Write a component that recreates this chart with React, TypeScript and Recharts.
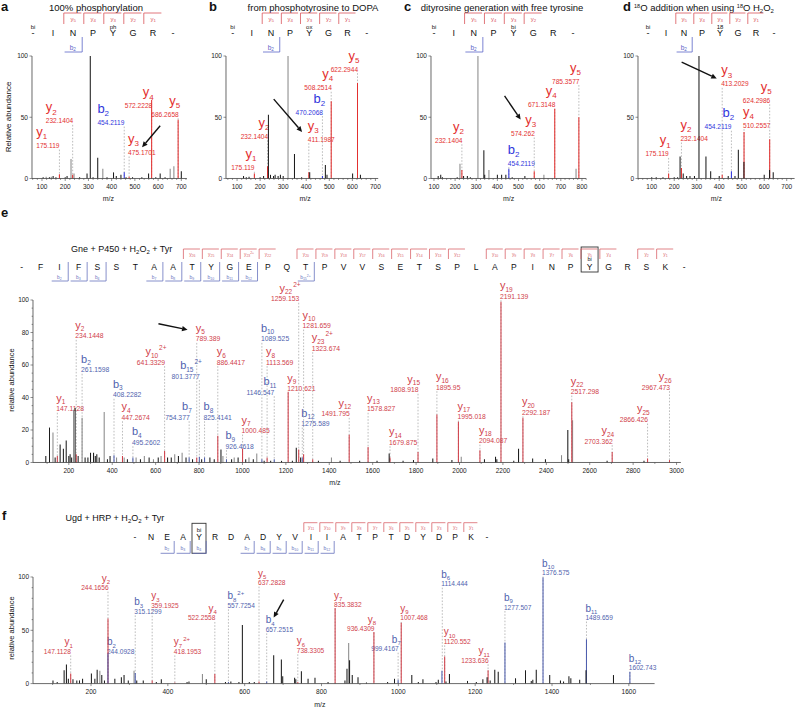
import React from "react";
import { ComposedChart, ErrorBar, ReferenceLine, Scatter, XAxis, YAxis } from "recharts";

type Peak = [number, number, string];
// ion, subscript, charge, mass text, m/z, label level, alignment
type Ann = [string, string, string, string, number, number, string];

const FONT = "'Liberation Sans', Arial, Helvetica, sans-serif";

// ---------- a: 100% phosphorylation ----------
const seqA = ["-", "I", "N", "P", "Y", "G", "R", "-"];
const yIonsA: [number, string, string][] = [[2, "5", ""], [3, "4", ""], [4, "3", ""], [5, "2", ""], [6, "1", ""]];
const bIonsA: [number, string, string][] = [[2, "2", ""]];
const modsA: [number, string][] = [[0, "bi"], [4, "ph"]];
const peaksA: Peak[] = [
  [105, 1, "k"], [118, 1.5, "g"], [132, 1, "k"], [140, 1.5, "g"], [148, 2, "k"], [160, 1, "k"],
  [175.1, 3.5, "r"], [200, 1, "k"], [208, 2, "k"], [225, 16, "g"], [232.1, 3, "r"], [238, 4, "g"],
  [262, 1, "k"], [294, 4, "k"], [308, 100, "k"], [320, 1, "k"], [340, 17, "k"], [362, 8, "g"],
  [380, 1, "k"], [408, 5, "k"], [420, 2, "k"], [440, 3, "k"], [454.2, 5, "b"], [462, 1, "k"],
  [475.2, 1.5, "r"], [490, 1, "k"], [530, 1, "k"], [559, 4, "k"], [572.2, 64, "r"], [590, 1, "k"],
  [609, 4, "k"], [630, 1, "k"], [652, 8, "g"], [668, 10, "g"], [686.3, 48, "r"], [700, 6, "k"],
];
const annsA: Ann[] = [
  ["y", "1", "", "175.119", 175.1, 23.6, "el"],
  ["y", "2", "", "232.1404", 232.1, 43.8, "el"],
  ["b", "2", "", "454.2119", 454.2, 42.4, "el"],
  ["y", "3", "", "475.1701", 475.2, 18, "s"],
  ["y", "4", "", "572.2228", 572.2, 56, "e"],
  ["y", "5", "", "686.2658", 686.3, 49.2, "e"],
];
const arrowA: [number, number][] = [[609, 43], [531, 25.6]];

// ---------- b: from phosphotyrosine to DOPA ----------
const seqB = ["-", "I", "N", "P", "Y", "G", "R", "-"];
const modsB: [number, string][] = [[0, "bi"], [4, "ox"]];
const peaksB: Peak[] = [
  [128, 2, "k"], [140, 1, "k"], [152, 1.5, "k"], [175.1, 4, "r"], [200, 1, "k"], [215, 2, "k"],
  [232.1, 10, "r"], [236, 52, "k"], [245, 3, "k"], [258, 2, "k"], [265, 3, "k"], [278, 2, "k"],
  [288, 3, "k"], [300, 2, "k"], [321, 100, "g"], [349, 20, "k"], [380, 1, "k"], [411.2, 5, "r"],
  [415, 5, "k"], [470.2, 2, "b"], [483, 11, "k"], [490, 3, "k"], [508.3, 63, "r"], [601, 4, "k"],
  [622.3, 78, "r"], [635, 3, "k"],
];
const annsB: Ann[] = [
  ["y", "1", "", "175.119", 175.1, 5.5, "e"],
  ["y", "2", "", "232.1404", 232.1, 31.2, "e"],
  ["y", "3", "", "411.1987", 411.2, 28.9, "s"],
  ["b", "2", "", "470.2068", 470.2, 51, "e"],
  ["y", "4", "", "508.2514", 508.3, 70.8, "e"],
  ["y", "5", "", "622.2944", 622.3, 86, "e"],
];
const arrowB: [number, number][] = [[259, 64.8], [382, 38]];

// ---------- c: dityrosine generation with free tyrosine ----------
const seqC = ["-", "I", "N", "P", "Y", "G", "R", "-"];
const yIonsC: [number, string, string][] = [[2, "5", ""], [3, "4", ""], [4, "3", ""], [5, "2", ""]];
const modsC: [number, string][] = [[0, "bi"], [4, "bi"]];
const peaksC: Peak[] = [
  [120, 2, "k"], [132, 3, "k"], [140, 1, "k"], [210, 1, "k"], [223, 12, "g"], [232.1, 7, "r"],
  [240, 2, "k"], [258, 2, "k"], [272, 1, "k"], [308, 100, "g"], [336, 23, "k"], [340, 3, "k"],
  [360, 7, "g"], [400, 3, "k"], [420, 3, "k"], [440, 3, "k"], [454.2, 8, "b"], [470, 1, "k"],
  [530, 2, "k"], [574.3, 6, "r"], [620, 3, "g"], [671.3, 57, "r"], [772, 8, "g"], [785.4, 50, "r"],
];
const annsC: Ann[] = [
  ["y", "2", "", "232.1404", 232.1, 28, "e"],
  ["b", "2", "", "454.2119", 454.2, 9.3, "s"],
  ["y", "3", "", "574.262", 574.3, 33.5, "e"],
  ["y", "4", "", "671.3148", 671.3, 57, "e"],
  ["y", "5", "", "785.3577", 785.4, 76.3, "e"],
];
const arrowC: [number, number][] = [[434, 67.4], [510, 48.2]];

// ---------- d: 18O addition ----------
const seqD = ["-", "I", "N", "P", "Y", "G", "R", "-"];
const modsD: [number, string][] = [[0, "bi"], [4, "18"]];
const peaksD: Peak[] = [
  [100, 1, "k"], [120, 1, "k"], [150, 1, "k"], [175.1, 4, "r"], [200, 1, "k"], [215, 1, "k"],
  [226, 18, "k"], [232.1, 8.5, "r"], [240, 4, "k"], [255, 2, "k"], [270, 2, "k"], [290, 2, "k"],
  [310, 100, "k"], [341, 18, "k"], [362, 6, "k"], [400, 2, "k"], [413.2, 3, "r"], [440, 2, "k"],
  [454.2, 6, "b"], [470, 2, "k"], [485, 23.5, "k"], [510.3, 38, "r"], [509.8, 13.5, "k"],
  [600, 3, "k"], [624.3, 32, "r"], [623.8, 7, "k"], [640, 5, "k"],
];
const annsD: Ann[] = [
  ["y", "1", "", "175.119", 175.1, 16.8, "e"],
  ["y", "2", "", "232.1404", 232.1, 29.4, "s"],
  ["y", "3", "", "413.2029", 413.2, 74, "s"],
  ["b", "2", "", "454.2119", 454.2, 39, "e"],
  ["y", "4", "", "510.2557", 510.3, 40.3, "s"],
  ["y", "5", "", "624.2986", 624.3, 60.6, "e"],
];
const arrowD: [number, number][] = [[233, 95], [389, 81.7]];

const xTicks700 = [100, 200, 300, 400, 500, 600, 700];
const xTicks800 = [100, 200, 300, 400, 500, 600, 700, 800];
const yTicks50 = [0, 50, 100];

// ---------- e: Gne + P450 + H2O2 + Tyr ----------
const seqE = ["-", "F", "I", "F", "S", "S", "T", "A", "A", "T", "Y", "G", "E", "P", "Q", "T", "P", "V",
  "V", "S", "E", "T", "S", "P", "L", "A", "P", "I", "N", "P", "Y", "G", "R", "S", "K", "-"];
const yIonsE: [number, string, string][] = [
  [9, "26", ""], [10, "25", ""], [11, "24", ""], [12, "23", "2+"], [13, "22", ""], [15, "20", ""],
  [16, "19", ""], [17, "18", ""], [18, "17", ""], [19, "16", ""], [20, "15", ""], [21, "14", ""],
  [22, "13", ""], [23, "12", ""], [25, "10", ""], [26, "9", ""], [27, "8", ""], [28, "7", ""],
  [29, "6", ""], [30, "5", ""], [31, "4", ""], [33, "2", ""], [34, "1", ""],
];
const bIonsE: [number, string, string][] = [
  [2, "2", ""], [3, "3", ""], [4, "4", ""], [7, "7", ""], [8, "8", ""], [9, "9", ""], [10, "10", ""],
  [11, "11", ""], [12, "12", ""], [15, "15", "2+"],
];
const modsE: [number, string][] = [[30, "bi"]];
const peaksE: Peak[] = [
  [94, 4, "k"], [111, 21.5, "k"], [127, 18.5, "g"], [137, 3, "k"], [147.1, 4, "r"], [160, 11, "k"],
  [175, 8.5, "k"], [188, 13.5, "k"], [200, 4, "k"], [206, 5, "k"], [213, 3, "k"], [222, 32.5, "g"],
  [229, 33.5, "k"], [234.1, 5, "r"], [243, 4, "k"], [261.2, 27.5, "g"], [275, 3, "k"], [288, 3, "k"],
  [300, 6, "k"], [314, 6, "k"], [322, 4, "k"], [329, 5, "k"], [340, 3, "k"], [363, 31, "g"],
  [378, 2, "k"], [390, 4, "k"], [408.2, 4.5, "b"], [420, 3, "g"], [447.3, 4, "r"], [455, 3, "g"],
  [470, 2, "k"], [495.3, 3, "b"], [510, 3, "g"], [530, 2, "k"], [548, 4, "g"], [570, 3, "k"],
  [590, 2, "g"], [612, 3, "k"], [625, 4, "g"], [641.3, 7, "r"], [655, 3, "k"], [672, 3, "k"],
  [688, 5, "g"], [705, 4, "k"], [722, 6, "g"], [740, 3, "k"], [754.4, 3, "b"], [770, 2, "k"],
  [789.4, 3, "r"], [801.4, 3.5, "b"], [812, 2, "k"], [825.4, 3, "b"], [850, 3, "k"], [870, 2, "k"],
  [886.4, 16.5, "r"], [901, 8, "k"], [910, 4, "g"], [926.5, 2, "b"], [950, 2, "k"], [962, 3, "g"],
  [980, 3, "k"], [1000.5, 8.5, "r"], [1015, 2, "k"], [1030, 3, "g"], [1050, 2, "k"], [1066, 5.5, "g"],
  [1089.5, 2, "b"], [1100, 1, "k"], [1113.6, 3, "r"], [1130, 1, "k"], [1146.5, 2, "b"], [1180, 1, "k"],
  [1210.6, 43.5, "r"], [1230, 1, "k"], [1248, 9, "k"], [1259.2, 8, "r"], [1268, 3, "k"],
  [1275.6, 3, "b"], [1281.7, 5, "r"], [1323.7, 2, "r"], [1350, 1, "k"], [1410, 3, "g"], [1450, 1, "k"],
  [1491.8, 17, "r"], [1540, 1, "k"], [1578.8, 9.5, "r"], [1620, 1, "k"], [1676, 5.5, "k"],
  [1679.9, 3, "r"], [1740, 1, "k"], [1788, 1.5, "k"], [1808.9, 6.5, "r"], [1877, 2.5, "k"],
  [1895.9, 29.5, "r"], [1965, 1.5, "k"], [1995, 25, "r"], [2008, 3.5, "g"], [2094.1, 7.5, "r"],
  [2115, 2, "k"], [2166, 3.5, "k"], [2172, 2, "k"], [2191.1, 99, "r"], [2250, 1, "k"], [2272, 8.5, "k"],
  [2292.2, 27.5, "r"], [2337, 2.5, "k"], [2396, 2, "k"], [2470, 4.5, "g"], [2499, 20, "k"],
  [2503, 2, "k"], [2517.3, 37, "r"], [2521, 26, "g"], [2680, 1, "k"], [2703.4, 6.5, "r"],
  [2850, 1, "k"], [2866.4, 2.5, "r"], [2967.5, 1.5, "r"],
];
const annsE: Ann[] = [
  ["y", "1", "", "147.1128", 147.1, 30.6, "s"],
  ["y", "2", "", "234.1448", 234.1, 75.5, "s"],
  ["b", "2", "", "261.1598", 261.2, 54.6, "s"],
  ["b", "3", "", "408.2282", 408.2, 39.2, "s"],
  ["y", "4", "", "447.2674", 447.3, 25.4, "s"],
  ["b", "4", "", "495.2602", 495.3, 10, "s"],
  ["y", "10", "2+", "641.3329", 641.3, 59.3, "e"],
  ["b", "7", "", "754.377", 754.4, 25.4, "e"],
  ["y", "5", "", "789.389", 789.4, 73.6, "s"],
  ["b", "15", "2+", "801.3777", 801.4, 50.7, "e"],
  ["b", "8", "", "825.4141", 825.4, 25.4, "s"],
  ["y", "6", "", "886.4417", 886.4, 59.3, "s"],
  ["b", "9", "", "926.4618", 926.5, 7.6, "s"],
  ["y", "7", "", "1000.485", 1000.5, 17.2, "s"],
  ["b", "10", "", "1089.525", 1089.5, 73.6, "s"],
  ["y", "8", "", "1113.569", 1113.6, 59.3, "s"],
  ["b", "11", "", "1146.547", 1146.5, 40.8, "e"],
  ["y", "9", "", "1210.621", 1210.6, 42.9, "s"],
  ["y", "22", "2+", "1259.153", 1259.2, 98.3, "e"],
  ["b", "12", "", "1275.589", 1275.6, 21.5, "s"],
  ["y", "10", "", "1281.659", 1281.7, 81.8, "s"],
  ["y", "23", "2+", "1323.674", 1323.7, 67.9, "s"],
  ["y", "12", "", "1491.795", 1491.8, 27.5, "e"],
  ["y", "13", "", "1578.827", 1578.8, 30.6, "s"],
  ["y", "14", "", "1679.875", 1679.9, 10, "s"],
  ["y", "15", "", "1808.918", 1808.9, 42.3, "e"],
  ["y", "16", "", "1895.95", 1895.9, 43.9, "s"],
  ["y", "17", "", "1995.018", 1995, 25.8, "s"],
  ["y", "18", "", "2094.087", 2094.1, 11, "s"],
  ["y", "19", "", "2191.139", 2191.1, 99.9, "s"],
  ["y", "20", "", "2292.187", 2292.2, 28.5, "s"],
  ["y", "22", "", "2517.298", 2517.3, 41.2, "s"],
  ["y", "24", "", "2703.362", 2703.4, 10.7, "e"],
  ["y", "25", "", "2866.426", 2866.4, 24, "e"],
  ["y", "26", "", "2967.473", 2967.5, 43.9, "e"],
];
const arrowE: [number, number][] = [[613, 85.4], [747, 81.7]];
const xTicksE = [200, 400, 600, 800, 1000, 1200, 1400, 1600, 1800, 2000, 2200, 2400, 2600, 2800, 3000];
const yTicksE = [0, 20, 40, 60, 80, 100];

// ---------- f: Ugd + HRP + H2O2 + Tyr ----------
const seqF = ["-", "N", "E", "A", "Y", "R", "D", "A", "D", "Y", "V", "I", "I", "A", "T", "P", "T", "D", "Y",
  "D", "P", "K", "-"];
const yIonsF: [number, string, string][] = [
  [11, "11", ""], [12, "10", ""], [13, "9", ""], [14, "8", ""], [15, "7", ""], [16, "6", ""],
  [17, "5", ""], [18, "4", ""], [19, "3", ""], [20, "2", ""], [21, "1", ""],
];
const bIonsF: [number, string, string][] = [
  [2, "2", ""], [3, "3", ""], [4, "4", ""], [7, "7", ""], [8, "8", ""], [9, "9", ""], [10, "10", ""],
  [11, "11", ""], [12, "12", ""],
];
const modsF: [number, string][] = [[4, "bi"]];
const peaksF: Peak[] = [
  [101, 3, "k"], [112, 1.5, "k"], [130, 12.5, "k"], [136, 18, "k"], [141, 4.5, "k"], [147.1, 9.5, "r"],
  [153, 4, "k"], [163, 3, "k"], [170, 3, "k"], [178, 4.5, "k"], [201, 9.5, "k"], [210, 4.5, "k"],
  [216, 13, "k"], [223, 12, "g"], [228, 8, "k"], [235, 3, "k"], [244.2, 61, "r"], [244.1, 28, "b"],
  [262, 4.5, "k"], [279, 6, "k"], [286, 8, "k"], [297, 3, "k"], [312, 12, "g"], [315.1, 10, "b"],
  [319, 3, "k"], [336, 3, "k"], [359.2, 3, "r"], [370, 1.5, "k"], [383, 4, "k"], [418.2, 1, "r"],
  [450, 1.5, "k"], [455, 2, "k"], [490, 9, "g"], [500, 4, "k"], [522.3, 9, "r"], [550, 1.5, "k"],
  [557.7, 1.5, "b"], [564, 2, "k"], [585, 1.5, "k"], [594, 55, "k"], [612, 1.5, "k"], [625, 1.5, "k"],
  [637.3, 2, "r"], [657.3, 2, "b"], [675.5, 26.5, "k"], [695.5, 22.5, "k"], [699, 7, "k"],
  [730, 5.5, "k"], [733, 4, "k"], [738.3, 1.5, "r"], [747.6, 11.5, "k"], [765, 4.5, "k"],
  [783, 5.5, "k"], [817, 1.5, "k"], [835.4, 71, "r"], [861, 3, "k"], [866.3, 14, "k"],
  [870.7, 38, "g"], [873, 22, "k"], [880, 8, "k"], [895, 6, "k"], [917, 1, "k"], [936.4, 48.5, "r"],
  [972, 1.5, "k"], [990, 4.5, "k"], [999.4, 3.5, "b"], [1007.5, 57, "r"], [1035, 8, "k"],
  [1052, 1.5, "k"], [1064, 4, "k"], [1098, 1.5, "k"], [1104, 3.5, "k"], [1113.5, 12, "b"],
  [1120.6, 25.5, "r"], [1124, 2, "k"], [1133, 9, "k"], [1180, 2.5, "k"], [1203, 1.5, "k"],
  [1220, 4, "k"], [1233.6, 12.5, "r"], [1231, 6, "k"], [1239, 3, "k"], [1251, 13, "k"],
  [1260, 11, "k"], [1277.5, 38.5, "b"], [1305, 5, "k"], [1331, 12.5, "k"], [1346, 2.5, "k"],
  [1350, 3.5, "k"], [1359, 13, "k"], [1376.6, 99.5, "b"], [1394, 8, "k"], [1422, 3, "k"],
  [1430, 2, "k"], [1444, 7, "k"], [1449, 5, "k"], [1472, 3.5, "k"], [1489.7, 41.5, "b"],
  [1488.5, 12.5, "k"], [1560, 8, "k"], [1602.7, 11, "b"],
];
const annsF: Ann[] = [
  ["y", "1", "", "147.1128", 147.1, 26.5, "e"],
  ["y", "2", "", "244.1656", 244.2, 86.3, "e"],
  ["b", "2", "", "244.0928", 244.1, 26.5, "s"],
  ["b", "3", "", "315.1299", 315.1, 64, "s"],
  ["y", "3", "", "359.1925", 359.2, 69.7, "s"],
  ["y", "7", "2+", "418.1953", 418.2, 26.5, "s"],
  ["y", "4", "", "522.2558", 522.3, 57.8, "e"],
  ["b", "8", "2+", "557.7254", 557.7, 69.7, "s"],
  ["y", "5", "", "637.2828", 637.3, 91, "s"],
  ["b", "4", "", "657.2515", 657.3, 47.2, "s"],
  ["y", "6", "", "738.3305", 738.3, 27.5, "s"],
  ["y", "7", "", "835.3832", 835.4, 70.3, "s"],
  ["y", "8", "", "936.4309", 936.4, 47.8, "e"],
  ["b", "7", "", "999.4167", 999.4, 29, "e"],
  ["y", "9", "", "1007.468", 1007.5, 57.8, "s"],
  ["b", "6", "", "1114.444", 1114.4, 90, "s"],
  ["y", "10", "", "1120.552", 1120.6, 35.9, "s"],
  ["y", "11", "", "1233.636", 1233.6, 18.1, "e"],
  ["b", "9", "", "1277.507", 1277.5, 68.1, "s"],
  ["b", "10", "", "1376.575", 1376.6, 100.4, "s"],
  ["b", "11", "", "1489.659", 1489.7, 58.2, "s"],
  ["b", "12", "", "1602.743", 1602.7, 10.9, "s"],
];
const arrowF: [number, number][] = [[701.5, 78.8], [675.5, 61.9]];
const xTicksF = [200, 400, 600, 800, 1000, 1200, 1400, 1600];

// minor ruler ticks along the axes
const ruler = (a: number, b: number, s: number) => {
  const out: number[] = [];
  for (let v = a; v <= b; v += s) out.push(v);
  return out;
};

type LStyle = { ion: number; sub: number; mass: number; gap: number; red: string; blue: string };
const SMALL: LStyle = { ion: 13, sub: 8, mass: 6.6, gap: 12, red: "#e3302f", blue: "#2f35dc" };
const STYLE_E: LStyle = { ion: 11, sub: 6.5, mass: 6.8, gap: 9.5, red: "#d0404a", blue: "#4f5fae" };
const STYLE_F: LStyle = { ion: 10, sub: 6, mass: 6.6, gap: 8.5, red: "#d0404a", blue: "#4f5fae" };

const ionLabel = (a: Ann, s: LStyle) => (props: any) => {
  const vb = props.viewBox ?? props;
  const x = vb.x;
  const y = vb.y - 1.5;
  const [ion, sub, sup, mass, , , al] = a;
  const color = ion === "b" ? s.blue : s.red;
  const massW = mass.length * s.mass * 0.556;
  const mx = al === "s" ? x - 1 : x - massW + 2.5;
  const ionW = s.ion * 0.54 + sub.length * s.sub * 0.556 + (sup ? sup.length * s.sub * 0.58 + 1 : 0);
  const ix = al === "e" ? mx + massW - ionW : mx;
  return (
    <g>
      <text x={mx} y={y} fontSize={s.mass} fill={color}>{mass}</text>
      <text x={ix} y={y - s.gap} fontSize={s.ion} fill={color}>
        {ion}
        <tspan fontSize={s.sub} dy={s.sub * 0.4}>{sub}</tspan>
        {sup ? <tspan fontSize={s.sub} dx={1} dy={-s.sub * 1.15}>{sup}</tspan> : null}
      </text>
    </g>
  );
};

const ArrowShape = (p: any) => {
  const { x1, y1, x2, y2 } = p;
  const ang = Math.atan2(y2 - y1, x2 - x1);
  const L = 5.5;
  const W = 2.6;
  const bx = x2 - L * Math.cos(ang);
  const by = y2 - L * Math.sin(ang);
  const pts = `${x2},${y2} ${bx - W * Math.sin(ang)},${by + W * Math.cos(ang)} ${bx + W * Math.sin(ang)},${by - W * Math.cos(ang)}`;
  return (
    <g>
      <line x1={x1} y1={y1} x2={bx} y2={by} stroke="#111" strokeWidth={1.4} />
      <polygon points={pts} fill="#111" />
    </g>
  );
};

const Blank = () => <g />;

const peakColor = (k: string, s: LStyle) =>
  k === "r" ? s.red : k === "b" ? s.blue : k === "g" ? "#8a8a8a" : "#1d1d1d";

// draw order: grey, red, blue, black on top
const KINDS = ["g", "r", "b", "k"];

type SpecProps = {
  x: number; y: number; w: number; h: number; domain: [number, number];
  xMajor: number[]; xMinor: number[]; yMajor: number[]; yMinor: number[];
  peaks: Peak[]; anns: Ann[]; arrow: [number, number][]; st: LStyle; mt: number; fs: number; mzDx: number;
};

const YW = 36;
const XH = 30;

function Spectrum(p: SpecProps) {
  const xTicks = Array.from(new Set([...p.xMinor, ...p.xMajor])).sort((a, b) => a - b);
  const yTicks = Array.from(new Set([...p.yMinor, ...p.yMajor])).sort((a, b) => a - b);
  const mr = 8;
  const XTick = (t: any) => {
    const major = p.xMajor.includes(t.payload.value);
    return (
      <g>
        <line x1={t.x} x2={t.x} y1={t.y} y2={t.y + (major ? 2.5 : 1.4)} stroke="#444" strokeWidth={0.6} />
        {major ? (
          <text x={t.x} y={t.y + 10.5} textAnchor="middle" fontSize={p.fs} fill="#222">{t.payload.value}</text>
        ) : null}
      </g>
    );
  };
  const YTick = (t: any) => {
    const major = p.yMajor.includes(t.payload.value);
    return (
      <g>
        <line x1={t.x} x2={t.x - (major ? 2.5 : 1.4)} y1={t.y} y2={t.y} stroke="#444" strokeWidth={0.6} />
        {major ? (
          <text x={t.x - 4} y={t.y + 2.3} textAnchor="end" fontSize={p.fs} fill="#222">{t.payload.value}</text>
        ) : null}
      </g>
    );
  };
  const MzLabel = (lp: any) => {
    const vb = lp.viewBox;
    return (
      <text x={vb.x + vb.width / 2 + p.mzDx} y={vb.y + vb.height - 7} textAnchor="middle" fontSize={7} fill="#222">
        m/z
      </text>
    );
  };
  return (
    <div style={{ position: "absolute", left: p.x - YW, top: p.y - p.mt }}>
      <ComposedChart
        width={p.w + YW + mr}
        height={p.h + p.mt + XH}
        margin={{ top: p.mt, right: mr, left: 0, bottom: 0 }}
      >
        <XAxis
          type="number"
          dataKey="mz"
          domain={p.domain}
          allowDataOverflow
          ticks={xTicks}
          interval={0}
          tick={XTick}
          tickLine={false}
          tickSize={0}
          tickMargin={0}
          stroke="#444"
          strokeWidth={0.8}
          height={XH}
          label={MzLabel}
        />
        <YAxis
          type="number"
          domain={[0, 100]}
          allowDataOverflow
          ticks={yTicks}
          interval={0}
          tick={YTick}
          tickLine={false}
          tickSize={0}
          tickMargin={0}
          stroke="#444"
          strokeWidth={0.8}
          width={YW}
        />
        {p.anns.map((a, i) => (
          <ReferenceLine
            key={"a" + i}
            segment={[{ x: a[4], y: a[5] }, { x: a[4], y: 0 }]}
            stroke="#a0a0a0"
            strokeWidth={0.7}
            strokeDasharray="1.6 1.6"
            ifOverflow="visible"
            label={ionLabel(a, p.st)}
          />
        ))}
        {KINDS.map((k) => {
          const data = p.peaks
            .filter((q) => q[2] === k)
            .map(([mz, v]) => ({ mz, v, err: [v, 0] }));
          if (!data.length) return null;
          return (
            <Scatter key={k} data={data} dataKey="v" shape={Blank} isAnimationActive={false}>
              <ErrorBar
                dataKey="err"
                direction="y"
                width={0}
                stroke={peakColor(k, p.st)}
                strokeWidth={1.05}
                isAnimationActive={false}
              />
            </Scatter>
          );
        })}
        <ReferenceLine
          segment={[{ x: p.arrow[0][0], y: p.arrow[0][1] }, { x: p.arrow[1][0], y: p.arrow[1][1] }]}
          ifOverflow="visible"
          shape={ArrowShape}
        />
      </ComposedChart>
    </div>
  );
}

type HeadCfg = {
  x0: number; step: number; resY: number; resFs: number;
  yTop: number; yBot: number; yLabY: number; yFs: number;
  bTop: number; bBot: number; bLabY: number; bFs: number;
  modY: number; modFs: number; red: string; blue: string; box?: [number, number, number];
};

function Header(props: {
  seq: string[]; yIons: [number, string, string][]; bIons: [number, string, string][];
  mods: [number, string][]; c: HeadCfg;
}) {
  const { seq, yIons, bIons, mods, c } = props;
  const cx = (i: number) => c.x0 + i * c.step;
  return (
    <g>
      {c.box ? (
        <rect
          x={cx(c.box[0]) - c.step / 2 + 1}
          y={c.box[1]}
          width={c.step - 2}
          height={c.box[2] - c.box[1]}
          fill="none"
          stroke="#333"
          strokeWidth={0.9}
        />
      ) : null}
      {seq.map((r, i) => (
        <text key={"r" + i} x={cx(i)} y={c.resY} textAnchor="middle" fontSize={c.resFs} fill="#111">{r}</text>
      ))}
      {mods.map(([i, t], k) => (
        <text key={"m" + k} x={cx(i)} y={c.modY} textAnchor="middle" fontSize={c.modFs} fill="#111">{t}</text>
      ))}
      {yIons.map(([i, n, z], k) => {
        const l = cx(i) - c.step / 2 + 0.8;
        const r = cx(i) + c.step / 2 - 1.6;
        return (
          <g key={"y" + k}>
            <path d={`M${l},${c.yBot}V${c.yTop}H${r}`} fill="none" stroke={c.red} strokeWidth={0.8} />
            <text x={(l + r) / 2 + 0.6} y={c.yLabY} textAnchor="middle" fontSize={c.yFs} fill={c.red}>
              y<tspan fontSize={c.yFs * 0.72} dy={1}>{n}</tspan>
              {z ? <tspan fontSize={c.yFs * 0.72} dy={-2.6}>{z}</tspan> : null}
            </text>
          </g>
        );
      })}
      {bIons.map(([i, n, z], k) => {
        const l = cx(i) - c.step / 2 + 1.6;
        const r = cx(i) + c.step / 2 - 0.8;
        return (
          <g key={"b" + k}>
            <path d={`M${l},${c.bBot}H${r}V${c.bTop}`} fill="none" stroke={c.blue} strokeWidth={0.8} />
            <text x={(l + r) / 2 - 0.6} y={c.bLabY} textAnchor="middle" fontSize={c.bFs} fill={c.blue}>
              b<tspan fontSize={c.bFs * 0.72} dy={1}>{n}</tspan>
              {z ? <tspan fontSize={c.bFs * 0.72} dy={-2.6}>{z}</tspan> : null}
            </text>
          </g>
        );
      })}
    </g>
  );
}

const topCfg = (x0: number, step: number): HeadCfg => ({
  x0, step, resY: 36, resFs: 9, yTop: 13, yBot: 24, yLabY: 21, yFs: 6,
  bTop: 37, bBot: 52, bLabY: 49.5, bFs: 6.5, modY: 28.5, modFs: 6, red: "#d9545b", blue: "#5a64c8",
});
const cfgE: HeadCfg = {
  x0: 21.7, step: 18.93, resY: 269.5, resFs: 8.5, yTop: 249, yBot: 259, yLabY: 255.5, yFs: 4.8,
  bTop: 262, bBot: 281, bLabY: 279, bFs: 4.8, modY: 261, modFs: 5.5, red: "#d9646b", blue: "#6874be",
  box: [30, 247, 272],
};
const cfgF: HeadCfg = {
  x0: 135, step: 16, resY: 540, resFs: 8.5, yTop: 522.7, yBot: 532, yLabY: 529, yFs: 5,
  bTop: 541, bBot: 553.3, bLabY: 550, bFs: 5, modY: 531.5, modFs: 6, red: "#d9646b", blue: "#6874be",
  box: [4, 523.3, 553.3],
};

export default function App() {
  const txt = { fontFamily: FONT, fill: "#111" } as const;
  return (
    <div
      style={{
        position: "absolute", left: 0, top: 0, width: 795, height: 707, overflow: "hidden",
        background: "#fff", fontFamily: FONT,
      }}
    >
      <Spectrum x={31.7} y={56} w={154.9} h={122.5} domain={[57, 724]} xMajor={xTicks700}
        xMinor={ruler(60, 720, 20)} yMajor={yTicks50} yMinor={[]} peaks={peaksA} anns={annsA}
        arrow={arrowA} st={SMALL} mt={30} fs={6.5} mzDx={-1} />
      <Spectrum x={225.7} y={56} w={152.2} h={122.5} domain={[52, 712]} xMajor={xTicks700}
        xMinor={ruler(60, 700, 20)} yMajor={yTicks50} yMinor={[]} peaks={peaksB} anns={annsB}
        arrow={arrowB} st={SMALL} mt={30} fs={6.5} mzDx={3} />
      <Spectrum x={431.3} y={56} w={155.2} h={122.5} domain={[86, 820]} xMajor={xTicks800}
        xMinor={ruler(100, 820, 20)} yMajor={yTicks50} yMinor={[]} peaks={peaksC} anns={annsC}
        arrow={arrowC} st={SMALL} mt={30} fs={6.5} mzDx={0} />
      <Spectrum x={638} y={56} w={156.6} h={122.5} domain={[39, 735]} xMajor={xTicks700}
        xMinor={ruler(40, 720, 20)} yMajor={yTicks50} yMinor={[]} peaks={peaksD} anns={annsD}
        arrow={arrowD} st={SMALL} mt={30} fs={6.5} mzDx={0} />
      <Spectrum x={32.8} y={299.5} w={647.9} h={162.5} domain={[35, 3020]} xMajor={xTicksE}
        xMinor={ruler(100, 3000, 100)} yMajor={yTicksE} yMinor={ruler(0, 100, 5)} peaks={peaksE}
        anns={annsE} arrow={arrowE} st={STYLE_E} mt={24} fs={6.5} mzDx={-22} />
      <Spectrum x={33.3} y={576.7} w={621.6} h={106.6} domain={[49, 1667]} xMajor={xTicksF}
        xMinor={ruler(100, 1600, 100)} yMajor={yTicks50} yMinor={ruler(0, 100, 10)} peaks={peaksF}
        anns={annsF} arrow={arrowF} st={STYLE_F} mt={24} fs={6.5} mzDx={-24} />

      <svg width={795} height={707} style={{ position: "absolute", left: 0, top: 0, pointerEvents: "none" }}>
        <g style={txt}>
          <text x={1} y={11} fontSize={13} fontWeight="bold">a</text>
          <text x={209} y={11} fontSize={13} fontWeight="bold">b</text>
          <text x={404} y={11} fontSize={13} fontWeight="bold">c</text>
          <text x={623} y={11} fontSize={13} fontWeight="bold">d</text>
          <text x={1} y={217} fontSize={13} fontWeight="bold">e</text>
          <text x={2} y={520} fontSize={13} fontWeight="bold">f</text>

          <text x={96} y={10.5} fontSize={9.5} textAnchor="middle">100% phosphorylation</text>
          <text x={313} y={10.5} fontSize={9.5} textAnchor="middle">from phosphotyrosine to DOPA</text>
          <text x={502} y={10.5} fontSize={9.5} textAnchor="middle">dityrosine generation with free tyrosine</text>
          <text x={704} y={10.5} fontSize={9.5} textAnchor="middle">
            <tspan fontSize={5.5} dy={-3}>18</tspan>
            <tspan dy={3}>O addition when using </tspan>
            <tspan fontSize={5.5} dy={-3}>18</tspan>
            <tspan dy={3}>O H</tspan>
            <tspan fontSize={6} dy={2}>2</tspan>
            <tspan dy={-2}>O</tspan>
            <tspan fontSize={6} dy={2}>2</tspan>
          </text>

          <text x={71} y={252} fontSize={9}>
            Gne + P450 + H<tspan fontSize={6} dy={2}>2</tspan>
            <tspan dy={-2}>O</tspan>
            <tspan fontSize={6} dy={2}>2</tspan>
            <tspan dy={-2}> + Tyr</tspan>
          </text>
          <text x={65.5} y={520.5} fontSize={9}>
            Ugd + HRP + H<tspan fontSize={6} dy={2}>2</tspan>
            <tspan dy={-2}>O</tspan>
            <tspan fontSize={6} dy={2}>2</tspan>
            <tspan dy={-2}> + Tyr</tspan>
          </text>

          <text transform="translate(10.5,117) rotate(-90)" fontSize={8} textAnchor="middle">Relative abundance</text>
          <text transform="translate(13.5,380) rotate(-90)" fontSize={7.5} textAnchor="middle">relative abundance</text>
          <text transform="translate(13.5,628) rotate(-90)" fontSize={7.5} textAnchor="middle">relative abundance</text>
        </g>

        <Header seq={seqA} yIons={yIonsA} bIons={bIonsA} mods={modsA} c={topCfg(33, 20)} />
        <Header seq={seqB} yIons={yIonsA} bIons={bIonsA} mods={modsB} c={topCfg(232.7, 19.14)} />
        <Header seq={seqC} yIons={yIonsC} bIons={bIonsA} mods={modsC} c={topCfg(434, 19.86)} />
        <Header seq={seqD} yIons={yIonsA} bIons={bIonsA} mods={modsD} c={topCfg(648, 18)} />
        <Header seq={seqE} yIons={yIonsE} bIons={bIonsE} mods={modsE} c={cfgE} />
        <Header seq={seqF} yIons={yIonsF} bIons={bIonsF} mods={modsF} c={cfgF} />
      </svg>
    </div>
  );
}
